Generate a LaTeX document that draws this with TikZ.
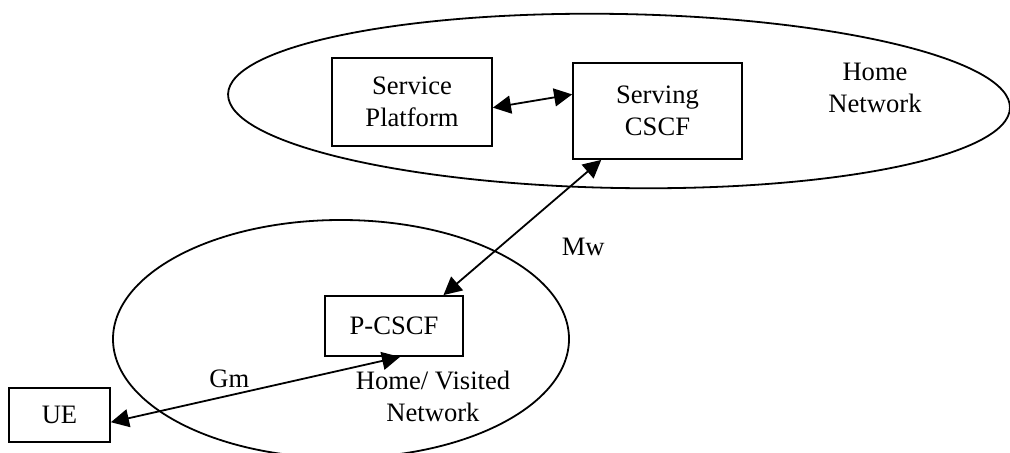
\documentclass[tikz,border=0pt]{standalone}
\usepackage{fontspec}
\setmainfont{Liberation Serif}
\usetikzlibrary{arrows.meta,positioning}
\tikzset{
    entity/.style={
        shape=rectangle,
        draw=black,
        line width=0.9pt,
        align=center,
        inner sep=2pt,
        font=\fontsize{13.3pt}{15.8pt}\selectfont
    },
    netname/.style={
        align=center,
        font=\fontsize{13.3pt}{16pt}\selectfont
    },
    region/.style={
        draw=black,
        line width=0.9pt
    },
    link/.style={
        {Triangle[length=9pt,width=9pt]}-{Triangle[length=9pt,width=9pt]},
        line width=0.9pt,
        every node/.style={font=\fontsize{13.3pt}{16pt}\selectfont}
    }
}

\begin{document}
\begin{tikzpicture}[x=0.5pt, y=-0.5pt]
    \useasboundingbox (0,0) rectangle (1010,453);

    % networks
    \draw[region, rotate around={-1:(619,101)}] (619,101) ellipse [x radius=391, y radius=87];
    \draw[region] (341,339) ellipse [x radius=228, y radius=119];

    \node[netname] (homenet) at (875,88) {Home\\Network};
    \node[netname] (visitnet) at (433,396) {Home/ Visited\\Network};

    \node[entity, minimum width=80pt, minimum height=44pt] (plat) at (412,102) {Service\\Platform};
    \node[entity, minimum width=84.5pt, minimum height=48pt] (scscf) at (657.5,111) {Serving\\CSCF};
    \node[entity, minimum width=69pt, minimum height=30pt] (pcscf) at (394,326) {P-CSCF};
    \node[entity, minimum width=50.5pt, minimum height=27pt] (ue) at (59.5,415) {UE};

    \begin{scope} % interfaces
    	\draw[link] 
    	(plat.-4) 
    	to 
    	(scscf.169);

    	\draw[link] 
    	(scscf.221) 
    	to node[pos=0.64, right=27pt] (mw) {Mw} 
    	(pcscf.32);

    	\draw[link] 
    	(ue.-8) 
    	to node[pos=0.41, above] (gm) {Gm} 
    	(pcscf.-79);
    \end{scope}
\end{tikzpicture}
\end{document}
